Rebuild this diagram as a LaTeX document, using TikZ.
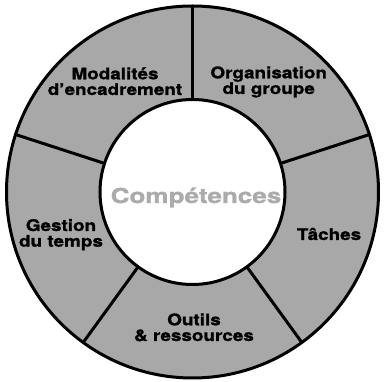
\documentclass[tikz,border=0pt]{standalone}
\usepackage{fontspec}
\usetikzlibrary{calc}
\newfontfamily\labfont{TeX Gyre Heros}[FakeStretch=1.18,FakeBold=1.2]
\newfontfamily\titfont{TeX Gyre Heros}[FakeStretch=1.27,FakeBold=1.2]
\definecolor{ringgray}{HTML}{A8A8A8}
\definecolor{titgray}{HTML}{ABABAB}
\begin{document}
\begin{tikzpicture}[x=1pt,y=1pt,
  ringline/.style={line width=3pt,draw=black},
  lab/.style={anchor=base,align=center,inner sep=0pt,font=\labfont\bfseries\fontsize{16}{15.7}\selectfont},
  tit/.style={anchor=base,inner sep=0pt,text=titgray,font=\titfont\bfseries\fontsize{20.5}{24}\selectfont}]
\useasboundingbox (0,0) rectangle (384,382);
\coordinate (ctr) at (192.5,190);
\fill[ringgray,even odd rule] (ctr) circle[radius=186] (ctr) circle[radius=92.5];
\draw[ringline] (ctr) circle[radius=186];
\draw[ringline,fill=white] (ctr) circle[radius=92.5];
\foreach \a/\n in {90/a,18/b,-54/c,-126/d,162/e}{
  \coordinate (in\n) at ($(ctr)+(\a:92.5)$);
  \coordinate (out\n) at ($(ctr)+(\a:186)$);
  \draw[ringline] (in\n) -- (out\n);
}
\node[lab] (mod) at (115,287) {Modalités\\d’encadrement};
\node[lab] (org) at (268.7,288) {Organisation\\du groupe};
\node[lab] (tac) at (329,142) {Tâches};
\node[lab] (ges) at (61,135.3) {Gestion\\du temps};
\node[lab] (out) at (194,41) {Outils\\\& ressources};
\node[tit] (comp) at (196,179) {Compétences};
\end{tikzpicture}
\end{document}
